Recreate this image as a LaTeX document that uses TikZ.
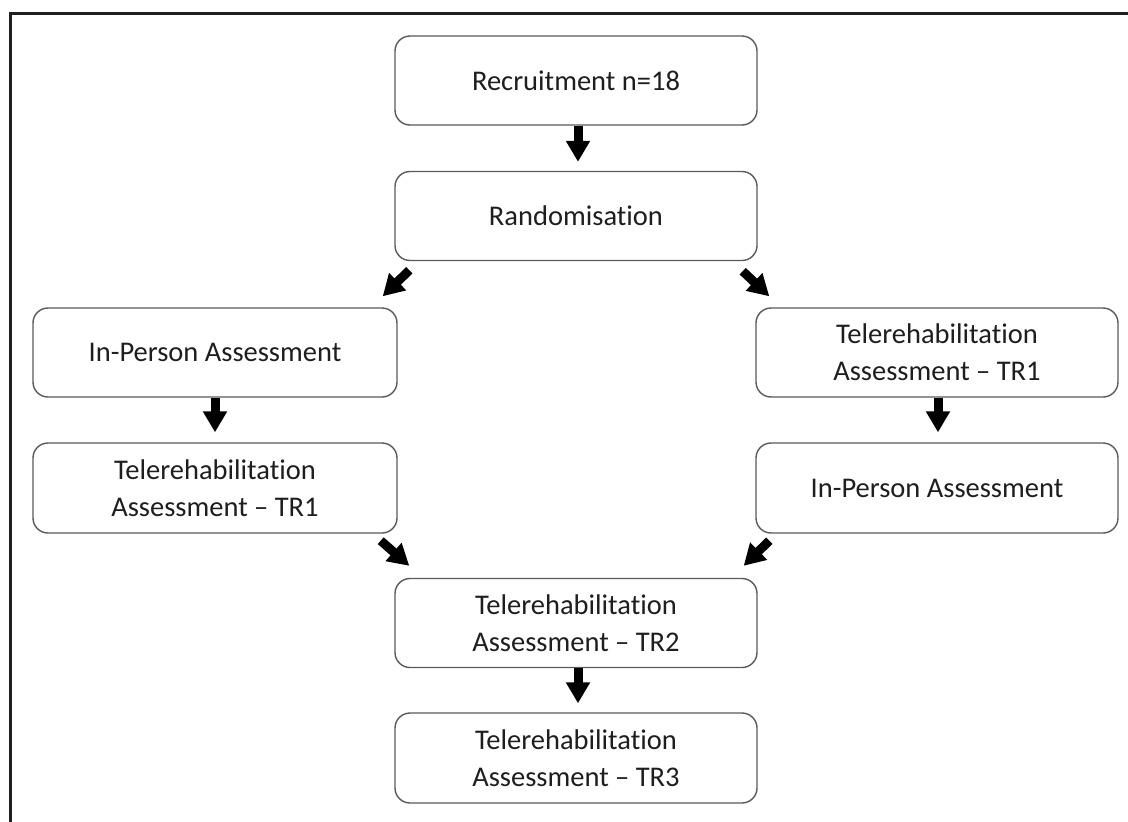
\documentclass[tikz,border=0pt]{standalone}
\usepackage{fontspec}
\setmainfont{Carlito}[Ligatures=NoCommon]
\usetikzlibrary{arrows.meta}
\definecolor{boxline}{HTML}{5A5A5A}
\definecolor{txt}{HTML}{1E1E1E}
\definecolor{frame}{HTML}{231F20}
\tikzset{
  flowbox/.style={draw=boxline, line width=1.4pt, rounded corners=15pt, fill=white,
    minimum width=362pt, minimum height=89pt, align=center, text=txt,
    inner sep=0pt, font=\fontsize{28.5}{37}\selectfont},
  blockarrow/.style={line width=9pt, -{Triangle[width=23pt,length=21pt]}, black},
}
\begin{document}
\begin{tikzpicture}[x=1pt,y=-1pt]
\useasboundingbox (0,0) rectangle (1128,822);
\fill[white] (0,0) rectangle (1128,822);
\coordinate (fc) at (10,13);
\coordinate (fr) at (1130,13);
\coordinate (fb) at (10,825);
\draw[frame, line width=3pt] (fr) -- (fc) -- (fb);

\node[flowbox] (rec) at (576,80.5) {Recruitment n=18};
\node[flowbox] (rand) at (576,216) {Randomisation};
\node[flowbox, minimum width=364pt] (ipl) at (215,352.5) {In-Person Assessment};
\node[flowbox, minimum width=364pt, minimum height=90pt] (trl) at (215,488) {Telerehabilitation\\Assessment -- TR1};
\node[flowbox] (trr) at (937,352.5) {Telerehabilitation\\Assessment -- TR1};
\node[flowbox, minimum height=90pt] (ipr) at (937,488) {In-Person Assessment};
\node[flowbox] (tr2) at (576,623) {Telerehabilitation\\Assessment -- TR2};
\node[flowbox, minimum height=90pt] (tr3) at (576,758) {Telerehabilitation\\Assessment -- TR3};

\draw[blockarrow, shorten >=9pt] ([xshift=2pt]rec.south) -- ([xshift=2pt]rand.north);
\draw[blockarrow, shorten >=10pt] (ipl.south) -- (trl.north);
\draw[blockarrow, shorten >=10pt] ([xshift=1pt]trr.south) -- ([xshift=1pt]ipr.north);
\draw[blockarrow, shorten >=9pt] ([xshift=2pt]tr2.south) -- ([xshift=2pt]tr3.north);

\draw[blockarrow] ([xshift=15pt,yshift=-9pt]rand.south west) -- ([xshift=-15pt,yshift=11pt]ipl.north east);
\draw[blockarrow] ([xshift=-15pt,yshift=-10pt]rand.south east) -- ([xshift=14pt,yshift=11pt]trr.north west);
\draw[blockarrow] ([xshift=-17pt,yshift=-7pt]trl.south east) -- ([xshift=15pt,yshift=12pt]tr2.north west);
\draw[blockarrow] ([xshift=14pt,yshift=-7pt]ipr.south west) -- ([xshift=-14pt,yshift=12pt]tr2.north east);
\end{tikzpicture}
\end{document}
